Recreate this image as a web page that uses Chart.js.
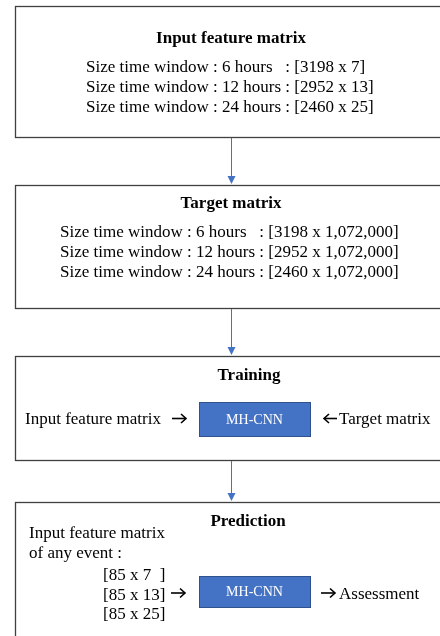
<!DOCTYPE html>
<html>
<head>
<meta charset="utf-8">
<script src="https://cdn.jsdelivr.net/npm/chart.js@4.4.1/dist/chart.umd.min.js"></script>
<style>
  html, body { margin: 0; padding: 0; background: #fff; }
  #wrap { width: 440px; height: 636px; }
</style>
</head>
<body>
<div id="wrap"><canvas id="FlowCanvas"></canvas></div>
<script>
// Texts of the diagram
const inputTitle = "Input feature matrix";
const inputLines = [
    "Size time window : 6 hours   : [3198 x 7]",
    "Size time window : 12 hours : [2952 x 13]",
    "Size time window : 24 hours : [2460 x 25]"
];
const targetTitle = "Target matrix";
const targetLines = [
    "Size time window : 6 hours   : [3198 x 1,072,000]",
    "Size time window : 12 hours : [2952 x 1,072,000]",
    "Size time window : 24 hours : [2460 x 1,072,000]"
];
const trainTitle = "Training";
const trainLeft = "Input feature matrix";
const trainRight = "Target matrix";
const modelName = "MH-CNN";
const predTitle = "Prediction";
const predIntro = ["Input feature matrix", "of any event :"];
const predSizes = ["[85 x 7  ]", "[85 x 13]", "[85 x 25]"];
const predOut = "Assessment";

// Layout (in page units, 440 x 636)
const layout = {
    boxLeft: 15, boxRight: 446,
    boxes: [[6, 137], [185, 308], [356, 460], [502, 650]],
    arrowX: 231.5,
    modelBox: { x1: 199, x2: 310 },
    trainModelY: [402, 436],
    predModelY: [576, 607]
};

const serif = "'Liberation Serif', 'Times New Roman', serif";
const borderColor = "#404040";
const blue = "#4472C4";

// small black text arrow (shaft + open chevron)
function textArrow(ctx, xFrom, xTo, y){
    const dir = xTo > xFrom ? 1 : -1;
    ctx.save();
    ctx.strokeStyle = "#000";
    ctx.lineWidth = 1.6;
    ctx.lineCap = "butt";
    ctx.lineJoin = "miter";
    ctx.beginPath();
    ctx.moveTo(xFrom, y);
    ctx.lineTo(xTo - dir * 0.8, y);
    ctx.stroke();
    ctx.beginPath();
    ctx.moveTo(xTo - dir * 5, y - 4.5);
    ctx.lineTo(xTo, y);
    ctx.lineTo(xTo - dir * 5, y + 4.5);
    ctx.stroke();
    ctx.restore();
}

function drawFlow(chart){
    const ctx = chart.ctx;
    const sx = chart.scales.x, sy = chart.scales.y;
    const X = v => sx.getPixelForValue(v);
    const Y = v => sy.getPixelForValue(v);

    ctx.save();

    // Outer boxes
    ctx.strokeStyle = borderColor;
    ctx.lineWidth = 1.3;
    layout.boxes.forEach(b => {
        ctx.strokeRect(Math.round(X(layout.boxLeft)) + 0.5, Math.round(Y(b[0])) + 0.5,
            X(layout.boxRight) - X(layout.boxLeft), Y(b[1]) - Y(b[0]));
    });

    // Connecting arrows
    for (let i = 0; i < layout.boxes.length - 1; i++) {
        const y1 = Y(layout.boxes[i][1]) + 1;
        const y2 = Y(layout.boxes[i + 1][0]);
        const x = X(layout.arrowX);
        ctx.strokeStyle = blue;
        ctx.lineWidth = 1;
        ctx.beginPath();
        ctx.moveTo(x, y1);
        ctx.lineTo(x, y2 - 7);
        ctx.stroke();
        ctx.fillStyle = blue;
        ctx.beginPath();
        ctx.moveTo(x - 4, y2 - 9);
        ctx.lineTo(x + 4, y2 - 9);
        ctx.lineTo(x, y2 - 1);
        ctx.closePath();
        ctx.fill();
    }

    ctx.fillStyle = "#000";
    ctx.textBaseline = "middle";

    // Box 1
    ctx.font = "bold 17px " + serif;
    ctx.textAlign = "center";
    ctx.fillText(inputTitle, X(231), Y(39));
    ctx.font = "17px " + serif;
    ctx.textAlign = "left";
    inputLines.forEach((t, i) => ctx.fillText(t, X(86), Y(68 + i * 20)));

    // Box 2
    ctx.font = "bold 17px " + serif;
    ctx.textAlign = "center";
    ctx.fillText(targetTitle, X(231), Y(204));
    ctx.font = "17px " + serif;
    ctx.textAlign = "left";
    targetLines.forEach((t, i) => ctx.fillText(t, X(60), Y(233 + i * 20)));

    // Box 3
    ctx.font = "bold 17px " + serif;
    ctx.textAlign = "center";
    ctx.fillText(trainTitle, X(249), Y(376));
    drawModel(ctx, X, Y, layout.trainModelY);
    ctx.fillStyle = "#000";
    ctx.font = "17px " + serif;
    ctx.textAlign = "left";
    ctx.fillText(trainLeft, X(25), Y(420));
    ctx.fillText(trainRight, X(339), Y(420));
    textArrow(ctx, X(172), X(186), Y(418.5));
    textArrow(ctx, X(337), X(324), Y(418.5));

    // Box 4
    ctx.font = "bold 17px " + serif;
    ctx.textAlign = "center";
    ctx.fillText(predTitle, X(248), Y(522));
    drawModel(ctx, X, Y, layout.predModelY);
    ctx.fillStyle = "#000";
    ctx.font = "17px " + serif;
    ctx.textAlign = "left";
    predIntro.forEach((t, i) => ctx.fillText(t, X(29), Y(534 + i * 20)));
    predSizes.forEach((t, i) => ctx.fillText(t, X(103), Y(576 + i * 19.5)));
    ctx.fillText(predOut, X(339), Y(595));
    textArrow(ctx, X(171), X(185), Y(593));
    textArrow(ctx, X(321), X(335), Y(593));

    ctx.restore();
}

function drawModel(ctx, X, Y, ys){
    const x1 = X(layout.modelBox.x1), x2 = X(layout.modelBox.x2);
    const y1 = Y(ys[0]), y2 = Y(ys[1]);
    ctx.fillStyle = blue;
    ctx.fillRect(x1, y1, x2 - x1, y2 - y1);
    ctx.strokeStyle = "#2F528F";
    ctx.lineWidth = 1;
    ctx.strokeRect(Math.round(x1) + 0.5, Math.round(y1) + 0.5, x2 - x1, y2 - y1);
    ctx.fillStyle = "#fff";
    ctx.font = "14px " + serif;
    ctx.textAlign = "center";
    ctx.fillText(modelName, (x1 + x2) / 2, (y1 + y2) / 2 + 1);
}

const flowPlugin = { id: "flow", afterDraw: drawFlow };

new Chart(document.getElementById("FlowCanvas"), {
    type: "scatter",
    data: { datasets: [{ data: [] }] },
    options: {
        animation: false,
        responsive: true,
        maintainAspectRatio: false,
        layout: { padding: 0 },
        plugins: { legend: { display: false }, tooltip: { enabled: false } },
        scales: {
            x: { type: "linear", min: 0, max: 440, display: false },
            y: { type: "linear", min: 0, max: 636, reverse: true, display: false }
        }
    },
    plugins: [flowPlugin]
});
</script>
</body>
</html>
